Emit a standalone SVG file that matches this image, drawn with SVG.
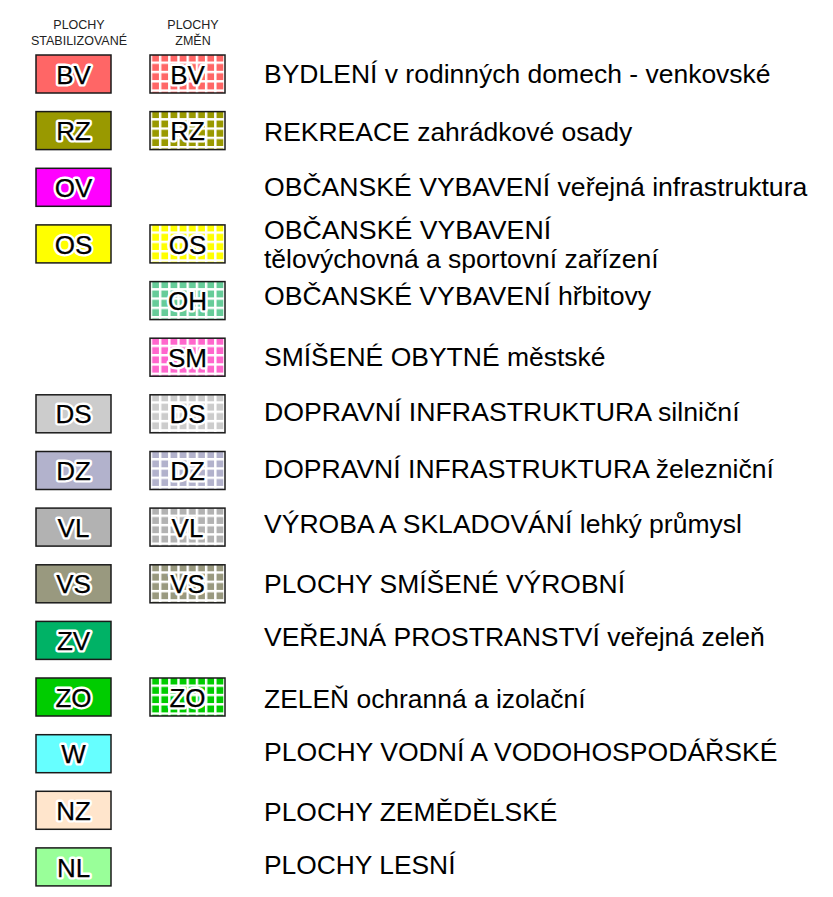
<svg xmlns="http://www.w3.org/2000/svg" width="833" height="897" viewBox="0 0 833 897">
<style>
  .box { stroke: #1a1a1a; stroke-width: 1.5; }
  .halo { font-family: "Liberation Sans", Arial, sans-serif; font-size: 26px; text-anchor: middle; fill: #fff; stroke: #fff; stroke-width: 5px; stroke-linejoin: round; }
  .lbl { font-family: "Liberation Sans", Arial, sans-serif; font-size: 26px; text-anchor: middle; fill: #000; stroke: #000; stroke-width: 0.25px; stroke-linejoin: round; }
  .desc { font-family: "Liberation Sans", Arial, sans-serif; font-size: 25px; fill: #000; }
  .hdr { font-family: "Liberation Sans", Arial, sans-serif; font-size: 12.5px; fill: #222; text-anchor: middle; }
</style>
<defs>
  <pattern id="grid" patternUnits="userSpaceOnUse" x="2.5" y="6.5" width="9.2" height="9.3">
    <rect x="0" y="0" width="2.4" height="9.3" fill="#fff"/>
    <rect x="0" y="0" width="9.2" height="2.4" fill="#fff"/>
  </pattern>
</defs>
<rect width="833" height="897" fill="#fff"/>

<g id="header">
  <text class="hdr" x="79" y="29.3">PLOCHY</text>
  <text class="hdr" x="79" y="45">STABILIZOVANÉ</text>
  <text class="hdr" x="193" y="29.3">PLOCHY</text>
  <text class="hdr" x="193" y="45">ZMĚN</text>
</g>

<g id="BV" transform="translate(0,55)">
  <rect class="box" x="36" y="0" width="75" height="38" fill="#FF6666"/>
  <text class="halo" x="73.5" y="28.7">BV</text><text class="lbl" x="73.5" y="28.7">BV</text>
  <rect x="150" y="0" width="75" height="38" fill="#FF6666"/>
  <rect class="box" x="150" y="0" width="75" height="38" fill="url(#grid)"/>
  <text class="halo" x="187.5" y="28.7">BV</text><text class="lbl" x="187.5" y="28.7">BV</text>
  <text class="desc" x="264" y="28" textLength="506.6" lengthAdjust="spacingAndGlyphs">BYDLENÍ v rodinných domech - venkovské</text>
</g>

<g id="RZ" transform="translate(0,111.6)">
  <rect class="box" x="36" y="0" width="75" height="38" fill="#999900"/>
  <text class="halo" x="73.5" y="28.7">RZ</text><text class="lbl" x="73.5" y="28.7">RZ</text>
  <rect x="150" y="0" width="75" height="38" fill="#999900"/>
  <rect class="box" x="150" y="0" width="75" height="38" fill="url(#grid)"/>
  <text class="halo" x="187.5" y="28.7">RZ</text><text class="lbl" x="187.5" y="28.7">RZ</text>
  <text class="desc" x="264" y="29.2" textLength="368.2" lengthAdjust="spacingAndGlyphs">REKREACE zahrádkové osady</text>
</g>

<g id="OV" transform="translate(0,168.3)">
  <rect class="box" x="36" y="0" width="75" height="38" fill="#FF00FF"/>
  <text class="halo" x="73.5" y="28.7">OV</text><text class="lbl" x="73.5" y="28.7">OV</text>
  <text class="desc" x="264" y="27.9" textLength="543.3" lengthAdjust="spacingAndGlyphs">OBČANSKÉ VYBAVENÍ veřejná infrastruktura</text>
</g>

<g id="OS" transform="translate(0,224.9)">
  <rect class="box" x="36" y="0" width="75" height="38" fill="#FFFF00"/>
  <text class="halo" x="73.5" y="28.7">OS</text><text class="lbl" x="73.5" y="28.7">OS</text>
  <rect x="150" y="0" width="75" height="38" fill="#FFFF00"/>
  <rect class="box" x="150" y="0" width="75" height="38" fill="url(#grid)"/>
  <text class="halo" x="187.5" y="28.7">OS</text><text class="lbl" x="187.5" y="28.7">OS</text>
  <text class="desc" x="264" y="13.6" textLength="287.1" lengthAdjust="spacingAndGlyphs">OBČANSKÉ VYBAVENÍ</text>
  <text class="desc" x="264" y="43.6" textLength="394.7" lengthAdjust="spacingAndGlyphs">tělovýchovná a sportovní zařízení</text>
</g>

<g id="OH" transform="translate(0,281.6)">
  <rect x="150" y="0" width="75" height="38" fill="#66CC99"/>
  <rect class="box" x="150" y="0" width="75" height="38" fill="url(#grid)"/>
  <text class="halo" x="187.5" y="28.7">OH</text><text class="lbl" x="187.5" y="28.7">OH</text>
  <text class="desc" x="264" y="23.9" textLength="387.2" lengthAdjust="spacingAndGlyphs">OBČANSKÉ VYBAVENÍ hřbitovy</text>
</g>

<g id="SM" transform="translate(0,338.2)">
  <rect x="150" y="0" width="75" height="38" fill="#FF66CC"/>
  <rect class="box" x="150" y="0" width="75" height="38" fill="url(#grid)"/>
  <text class="halo" x="187.5" y="28.7">SM</text><text class="lbl" x="187.5" y="28.7">SM</text>
  <text class="desc" x="264" y="27.8" textLength="341.6" lengthAdjust="spacingAndGlyphs">SMÍŠENÉ OBYTNÉ městské</text>
</g>

<g id="DS" transform="translate(0,394.8)">
  <rect class="box" x="36" y="0" width="75" height="38" fill="#CCCCCC"/>
  <text class="halo" x="73.5" y="28.7">DS</text><text class="lbl" x="73.5" y="28.7">DS</text>
  <rect x="150" y="0" width="75" height="38" fill="#CCCCCC"/>
  <rect class="box" x="150" y="0" width="75" height="38" fill="url(#grid)"/>
  <text class="halo" x="187.5" y="28.7">DS</text><text class="lbl" x="187.5" y="28.7">DS</text>
  <text class="desc" x="264" y="26.2" textLength="475.6" lengthAdjust="spacingAndGlyphs">DOPRAVNÍ INFRASTRUKTURA silniční</text>
</g>

<g id="DZ" transform="translate(0,451.5)">
  <rect class="box" x="36" y="0" width="75" height="38" fill="#B2B2CC"/>
  <text class="halo" x="73.5" y="28.7">DZ</text><text class="lbl" x="73.5" y="28.7">DZ</text>
  <rect x="150" y="0" width="75" height="38" fill="#B2B2CC"/>
  <rect class="box" x="150" y="0" width="75" height="38" fill="url(#grid)"/>
  <text class="halo" x="187.5" y="28.7">DZ</text><text class="lbl" x="187.5" y="28.7">DZ</text>
  <text class="desc" x="264" y="26.5" textLength="509.8" lengthAdjust="spacingAndGlyphs">DOPRAVNÍ INFRASTRUKTURA železniční</text>
</g>

<g id="VL" transform="translate(0,508.1)">
  <rect class="box" x="36" y="0" width="75" height="38" fill="#B2B2B2"/>
  <text class="halo" x="73.5" y="28.7">VL</text><text class="lbl" x="73.5" y="28.7">VL</text>
  <rect x="150" y="0" width="75" height="38" fill="#B2B2B2"/>
  <rect class="box" x="150" y="0" width="75" height="38" fill="url(#grid)"/>
  <text class="halo" x="187.5" y="28.7">VL</text><text class="lbl" x="187.5" y="28.7">VL</text>
  <text class="desc" x="264" y="25.4" textLength="478" lengthAdjust="spacingAndGlyphs">VÝROBA A SKLADOVÁNÍ lehký průmysl</text>
</g>

<g id="VS" transform="translate(0,564.8)">
  <rect class="box" x="36" y="0" width="75" height="38" fill="#99997F"/>
  <text class="halo" x="73.5" y="28.7">VS</text><text class="lbl" x="73.5" y="28.7">VS</text>
  <rect x="150" y="0" width="75" height="38" fill="#99997F"/>
  <rect class="box" x="150" y="0" width="75" height="38" fill="url(#grid)"/>
  <text class="halo" x="187.5" y="28.7">VS</text><text class="lbl" x="187.5" y="28.7">VS</text>
  <text class="desc" x="264" y="28.2" textLength="361" lengthAdjust="spacingAndGlyphs">PLOCHY SMÍŠENÉ VÝROBNÍ</text>
</g>

<g id="ZV" transform="translate(0,621.4)">
  <rect class="box" x="36" y="0" width="75" height="38" fill="#00B266"/>
  <text class="halo" x="73.5" y="28.7">ZV</text><text class="lbl" x="73.5" y="28.7">ZV</text>
  <text class="desc" x="264" y="24.6" textLength="500.8" lengthAdjust="spacingAndGlyphs">VEŘEJNÁ PROSTRANSTVÍ veřejná zeleň</text>
</g>

<g id="ZO" transform="translate(0,678)">
  <rect class="box" x="36" y="0" width="75" height="38" fill="#00CC00"/>
  <text class="halo" x="73.5" y="28.7">ZO</text><text class="lbl" x="73.5" y="28.7">ZO</text>
  <rect x="150" y="0" width="75" height="38" fill="#00CC00"/>
  <rect class="box" x="150" y="0" width="75" height="38" fill="url(#grid)"/>
  <text class="halo" x="187.5" y="28.7">ZO</text><text class="lbl" x="187.5" y="28.7">ZO</text>
  <text class="desc" x="264" y="29.5" textLength="321.5" lengthAdjust="spacingAndGlyphs">ZELEŇ ochranná a izolační</text>
</g>

<g id="W" transform="translate(0,734.7)">
  <rect class="box" x="36" y="0" width="75" height="38" fill="#66FFFF"/>
  <text class="halo" x="73.5" y="28.7">W</text><text class="lbl" x="73.5" y="28.7">W</text>
  <text class="desc" x="264" y="26.3" textLength="513.5" lengthAdjust="spacingAndGlyphs">PLOCHY VODNÍ A VODOHOSPODÁŘSKÉ</text>
</g>

<g id="NZ" transform="translate(0,791.3)">
  <rect class="box" x="36" y="0" width="75" height="38" fill="#FFE5CC"/>
  <text class="halo" x="73.5" y="28.7">NZ</text><text class="lbl" x="73.5" y="28.7">NZ</text>
  <text class="desc" x="264" y="29.7" textLength="293.5" lengthAdjust="spacingAndGlyphs">PLOCHY ZEMĚDĚLSKÉ</text>
</g>

<g id="NL" transform="translate(0,847.9)">
  <rect class="box" x="36" y="0" width="75" height="38" fill="#99FF99"/>
  <text class="halo" x="73.5" y="28.7">NL</text><text class="lbl" x="73.5" y="28.7">NL</text>
  <text class="desc" x="264" y="26.3" textLength="191.5" lengthAdjust="spacingAndGlyphs">PLOCHY LESNÍ</text>
</g>
</svg>
